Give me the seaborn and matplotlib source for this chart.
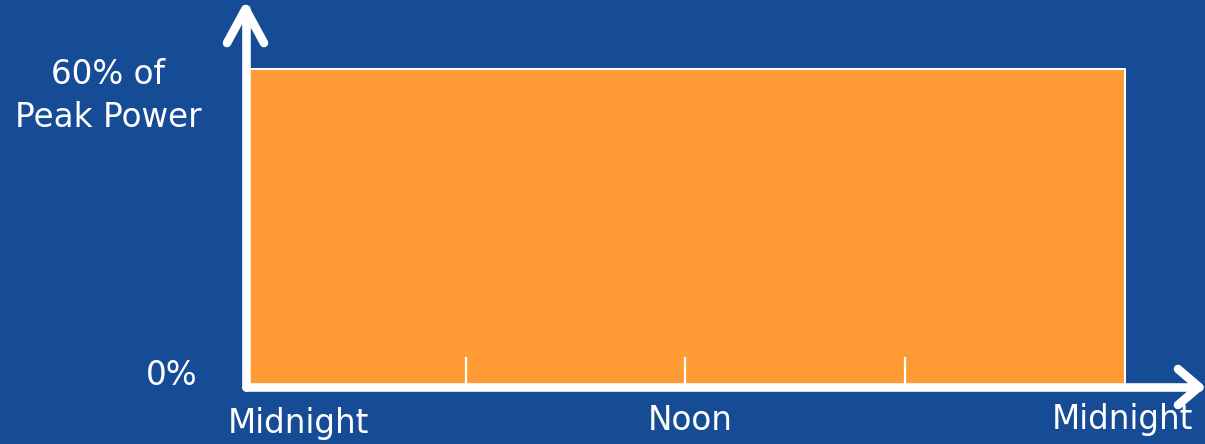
import numpy as np
import pandas as pd
import matplotlib
matplotlib.use('Agg')
import matplotlib.pyplot as plt
import seaborn as sns

# power demand over one day (hours from midnight, % of peak)
hours = [0, 24]
power = [60, 60]
tick_hours = [6, 12, 18]
x_labels = ['Midnight', 'Noon', 'Midnight']
y_labels = ['0%', '60% of\nPeak Power']

BLUE = '#164b95'
ORANGE = '#ff9a35'
W, H = 1205, 444


def px(x, y):
    # pixel position (from top-left) -> figure fraction
    return x / W, 1 - y / H


sns.set_theme(style='white')
plt.rcParams['font.family'] = ['DejaVu Sans']

fig = plt.figure(figsize=(W / 100, H / 100), dpi=100, facecolor=BLUE)
ax = fig.add_axes([246 / W, 1 - 387 / H, (1124.5 - 246) / W, (387 - 68) / H])
ax.set_facecolor('none')

df = pd.DataFrame({'hour': hours, 'power': power})
ax.fill_between(df['hour'], df['power'], color=ORANGE, edgecolor='white', linewidth=2.2, zorder=1)
sns.lineplot(data=df, x='hour', y='power', color='white', linewidth=2.2, ax=ax)

ax.set_xlim(0, 24)
ax.set_ylim(0, 60)
ax.grid(False)
for s in ax.spines.values():
    s.set_visible(False)
ax.set_axisbelow(False)
ax.set_yticks([])
ax.set_xticks(tick_hours, [''] * len(tick_hours))
ax.tick_params(axis='x', bottom=True, top=False, direction='in', length=21.6, width=1.6, color='white')
ax.set_xlabel('')
ax.set_ylabel('')

# axes drawn as white arrows
lw = 6.2
arrow_kw = dict(color='white', linewidth=lw, solid_capstyle='round',
                solid_joinstyle='round', transform=fig.transFigure, clip_on=False)
for pts in [[(245.5, 387), (245.5, 9)],
            [(227, 43), (245.5, 9), (264, 43)],
            [(245.5, 387), (1199, 387)],
            [(1178, 369), (1199, 387), (1178, 405)]]:
    xy = [px(x, y) for x, y in pts]
    fig.add_artist(plt.Line2D([p[0] for p in xy], [p[1] for p in xy], **arrow_kw))

fs = 23.5
txt_kw = dict(color='white', fontsize=fs, ha='center', va='center', transform=fig.transFigure)
fig.text(*px(108, 96), y_labels[1], linespacing=1.4, **txt_kw)
fig.text(*px(172, 375), y_labels[0], **txt_kw)
fig.text(*px(298, 423), x_labels[0], **txt_kw)
fig.text(*px(690, 420), x_labels[1], **txt_kw)
fig.text(*px(1122, 419), x_labels[2], **txt_kw)

fig.savefig('out.png', dpi=100, facecolor=BLUE)
